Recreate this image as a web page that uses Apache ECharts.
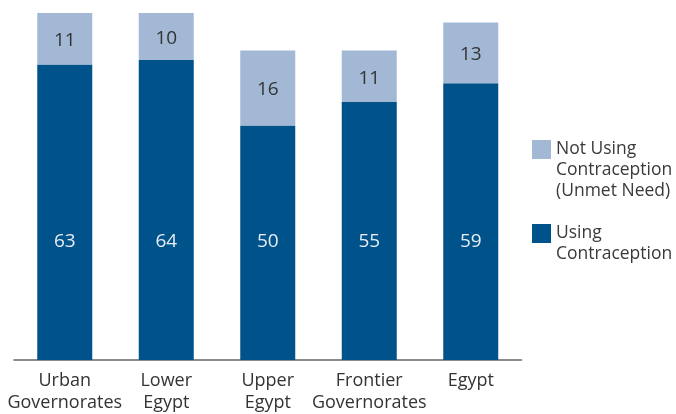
<!DOCTYPE html>
<html>
<head>
<meta charset="utf-8">
<script src="https://cdn.jsdelivr.net/npm/echarts@6/dist/echarts.min.js"></script>
<style>
  html, body { margin: 0; padding: 0; background: #fff; }
  #chart { width: 676px; height: 414px; }
</style>
</head>
<body>
<div id="chart"></div>
<script>
var categories = ['Urban\nGovernorates', 'Lower\nEgypt', 'Upper\nEgypt', 'Frontier\nGovernorates', 'Egypt'];
var usingValues = [63, 64, 50, 55, 59];
var unmetValues = [11, 10, 16, 11, 13];
var seriesNames = ['Not Using\nContraception\n(Unmet Need)', 'Using\nContraception'];

var chartDom = document.getElementById('chart');
var myChart = echarts.init(chartDom);
var font = 'Open Sans';

var option = {
  animation: false,
  textStyle: { fontFamily: font },
  grid: {
    left: 14,
    right: 154.5,
    top: 13,
    bottom: 50
  },
  legend: {
    orient: 'vertical',
    left: 527,
    top: 92,
    itemWidth: 19,
    itemHeight: 19,
    itemGap: 0,
    icon: 'rect',
    selectedMode: false,
    data: [seriesNames[0], seriesNames[1]],
    // blank lines in front so the square sits beside the first line
    formatter: function (name) {
      var n = name.split('\n').length;
      return new Array(n).join('\n') + name;
    },
    textStyle: {
      fontFamily: font,
      fontSize: 17.5,
      lineHeight: 21,
      color: '#3a3a3a'
    }
  },
  xAxis: {
    type: 'category',
    data: categories,
    axisTick: { show: false },
    axisLine: { lineStyle: { color: '#666', width: 1.5 } },
    axisLabel: {
      interval: 0,
      margin: 10,
      fontFamily: font,
      fontSize: 18,
      lineHeight: 22,
      color: '#333'
    }
  },
  yAxis: {
    type: 'value',
    min: 0,
    max: 74,
    show: false,
    splitLine: { show: false }
  },
  series: [
    {
      name: seriesNames[1],
      type: 'bar',
      stack: 'total',
      barWidth: 55,
      data: usingValues,
      itemStyle: { color: '#00528a' },
      label: {
        show: true,
        position: 'insideBottom',
        distance: 109,
        fontFamily: font,
        fontSize: 19,
        color: '#e6edf4'
      }
    },
    {
      name: seriesNames[0],
      type: 'bar',
      stack: 'total',
      barWidth: 55,
      data: unmetValues,
      itemStyle: { color: '#a3b8d5' },
      label: {
        show: true,
        position: 'inside',
        offset: [0, 2],
        fontFamily: font,
        fontSize: 19,
        color: '#333'
      }
    }
  ]
};

option && myChart.setOption(option);
</script>
</body>
</html>
